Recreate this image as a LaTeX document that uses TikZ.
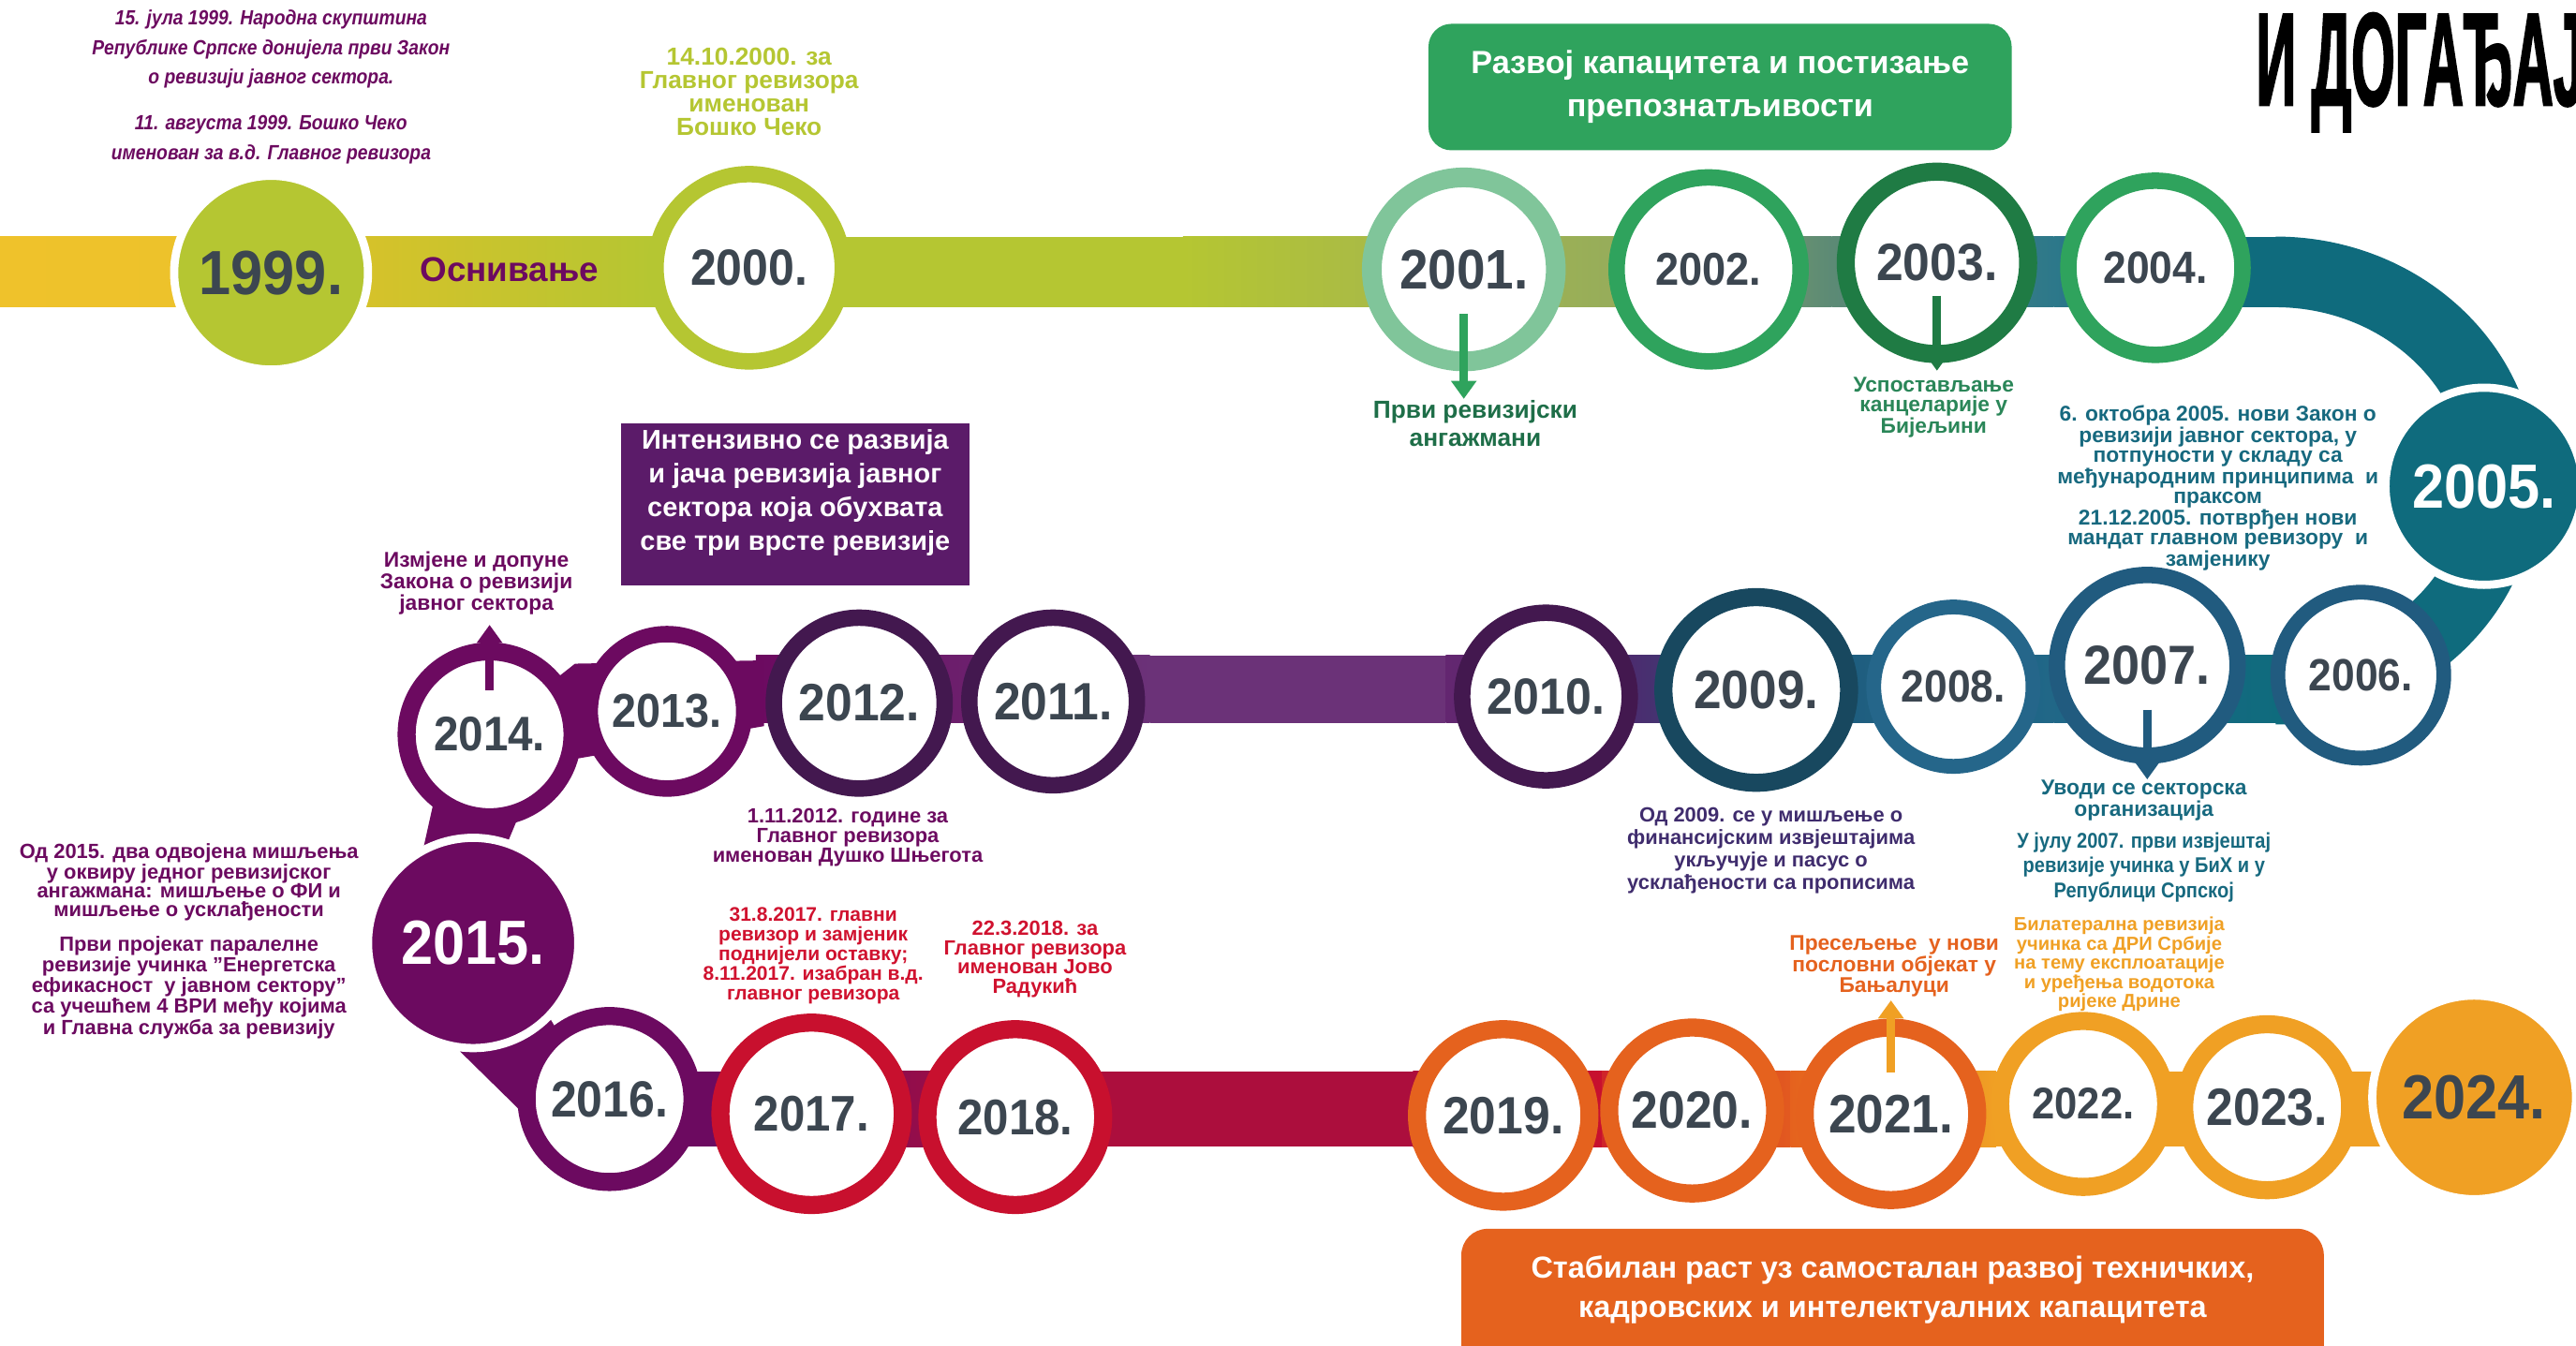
\documentclass[tikz,border=0pt]{standalone}
\usepackage{fontspec}
\setmainfont{Liberation Sans}
\newfontfamily\narrowf[FakeStretch=0.88]{Liberation Sans}
\newfontfamily\yearf[FakeStretch=0.92]{Liberation Sans}
\newfontfamily\titlef[FakeStretch=0.42,FakeBold=1.2]{Liberation Sans}
\usetikzlibrary{arrows.meta}
\definecolor{cYel}{HTML}{EFC22B}
\definecolor{cYelG}{HTML}{D6C22A}
\definecolor{cLime}{HTML}{B5C632}
\definecolor{bA}{HTML}{A8B948}
\definecolor{bB}{HTML}{94AB5D}
\definecolor{bC}{HTML}{5C8A75}
\definecolor{bD}{HTML}{2D788A}
\definecolor{cGreenL}{HTML}{80C59A}
\definecolor{cGreen}{HTML}{2FA35D}
\definecolor{cDGreen}{HTML}{1F7B44}
\definecolor{cTeal}{HTML}{0F6B7D}
\definecolor{cBlue}{HTML}{215B7F}
\definecolor{cBlueB}{HTML}{25668A}
\definecolor{cDTeal}{HTML}{18485F}
\definecolor{cDPurple}{HTML}{43184F}
\definecolor{cPurple}{HTML}{6C0A60}
\definecolor{cRed}{HTML}{C8102E}
\definecolor{cOrange}{HTML}{E5621E}
\definecolor{cAmber}{HTML}{F0A024}
\definecolor{cGray}{HTML}{3C4650}
\definecolor{cBoxP}{HTML}{5B1B69}
\definecolor{tGreen}{HTML}{1E6E48}
\definecolor{tGreenB}{HTML}{2A8658}
\definecolor{tTeal}{HTML}{17697F}
\definecolor{tBlue}{HTML}{3F2C6D}
\definecolor{tRed}{HTML}{D0122F}
\tikzset{
  yr/.style={font=\yearf\bfseries\fontsize{#1}{#1}\selectfont},
  ring/.style={circle, draw=#1, fill=white, inner sep=0pt, text=cGray},
  disc/.style={circle, fill=#1, draw=white, line width=5pt, inner sep=0pt},
  note/.style n args={3}{font=\bfseries\fontsize{#1}{#2}\selectfont, text=#3, align=center, inner sep=0pt},
  arr/.style={draw=#1, line width=5pt, -{Triangle[width=15pt,length=11pt]}},
}
\begin{document}
\begin{tikzpicture}[x=1pt,y=-1pt]
\useasboundingbox (0,0) rectangle (1568,819);
\fill[white] (0,0) rectangle (1568,819);
\begin{scope}
\clip (0,0) rectangle (1568,819);
% ---------- top band ----------
\shade[left color=cYel, right color=cYel!92!cYelG] (0,144) rectangle (112,187);
\shade[left color=cYelG, right color=cLime] (220,144) rectangle (400,187);
\fill[cLime] (400,144) rectangle (720,187);
\shade[left color=cLime, right color=bA] (720,144) rectangle (850,187);
\shade[left color=bA, right color=bB] (850,144) rectangle (1000,187);
\shade[left color=bB, right color=bC] (1000,144) rectangle (1115,187);
\shade[left color=bC, right color=bD] (1115,144) rectangle (1250,187);
\shade[left color=bD, right color=cTeal] (1250,144) rectangle (1330,187);
\fill[cTeal] (1330,144) rectangle (1386,187);
\draw[cTeal, line width=43pt] (1385,165.5) arc[start angle=-90, end angle=90, x radius=138, y radius=127];
% ---------- middle band ----------
\shade[left color=cBlueB!80!cTeal, right color=cTeal] (1250,399) rectangle (1387,440);
\shade[left color=cBlue!85!cTeal, right color=cBlueB!80!cTeal] (1120,399) rectangle (1250,440);
\shade[left color=cBoxP!75!cBlue, right color=cBlue!85!cTeal] (990,399) rectangle (1120,440);
\shade[left color=cBoxP!95!white, right color=cBoxP!75!cBlue] (880,399) rectangle (990,440);
\fill[cBoxP!90!white] (700,399) rectangle (880,440);
\shade[left color=cPurple, right color=cBoxP!90!white] (460,399) rectangle (700,440);
\fill[cPurple] (298,445) -- (350,404) -- (465,402) -- (465,442) -- (350,462) -- (298,470) -- cycle;
\fill[cPurple] (268,470) -- (326,472) -- (306,520) -- (258,515) -- cycle;
\fill[cPurple] (280,640) -- (330,612) -- (360,662) -- (335,694) -- cycle;
% ---------- bottom band ----------
\fill[cPurple] (371,652) rectangle (450,698);
\shade[left color=cPurple, right color=cPurple!40!cRed] (450,652) rectangle (600,698);
\fill[cPurple!30!cRed] (600,652) rectangle (860,698);
\shade[left color=cPurple!30!cRed, right color=cRed] (860,652) rectangle (975,698);
\shade[left color=cRed!75!cOrange, right color=cOrange!90!cRed] (975,652) rectangle (1090,698);
\shade[left color=cOrange, right color=cAmber] (1090,652) rectangle (1215,698);
\fill[cAmber] (1215,652) rectangle (1460,698);
% ---------- circles ----------
\node[disc=cLime, minimum size=118pt, yr=38, text=cGray] (y1999) at (165,166) {1999.};
\node[ring=cLime, line width=10pt, minimum size=114pt, yr=31] (y2000) at (456,163) {2000.};
\node[ring=cGreenL, line width=12pt, minimum size=112pt, yr=34] (y2001) at (891,164) {2001.};
\node[ring=cGreen, line width=10pt, minimum size=112pt, yr=28] (y2002) at (1040,164) {2002.};
\node[ring=cDGreen, line width=11pt, minimum size=111pt, yr=32] (y2003) at (1179,160) {2003.};
\node[ring=cGreen, line width=10pt, minimum size=106pt, yr=27.5] (y2004) at (1312,163) {2004.};
\node[disc=cTeal, minimum size=120pt, yr=38, text=white] (y2005) at (1512,296) {2005.};
\node[ring=cBlue, line width=9pt, minimum size=101pt, yr=27.5] (y2006) at (1437,411) {2006.};
\node[ring=cBlue, line width=10pt, minimum size=110pt, yr=33.5] (y2007) at (1307,405) {2007.};
\node[ring=cBlueB, line width=9pt, minimum size=97pt, yr=27.5] (y2008) at (1189,418) {2008.};
\node[ring=cDTeal, line width=11pt, minimum size=113pt, yr=33] (y2009) at (1069,420) {2009.};
\node[ring=cDPurple, line width=10pt, minimum size=102pt, yr=31] (y2010) at (941,424) {2010.};
\node[ring=cDPurple, line width=10pt, minimum size=102pt, yr=32] (y2011) at (641,427) {2011.};
\node[ring=cDPurple, line width=10pt, minimum size=104pt, yr=32] (y2012) at (523,428) {2012.};
\node[ring=cPurple, line width=10pt, minimum size=94pt, yr=29] (y2013) at (406,433) {2013.};
\node[ring=cPurple, line width=11pt, minimum size=101pt, yr=29.5] (y2014) at (298,447) {2014.};
\node[disc=cPurple, minimum size=128pt, yr=38, text=white] (y2015) at (288,574) {2015.};
\node[ring=cPurple, line width=11pt, minimum size=101pt, yr=31] (y2016) at (371,669) {2016.};
\node[ring=cRed, line width=11pt, minimum size=111pt, yr=30.5] (y2017) at (494,678) {2017.};
\node[ring=cRed, line width=11pt, minimum size=107pt, yr=30.5] (y2018) at (618,680) {2018.};
\node[ring=cOrange, line width=11pt, minimum size=105pt, yr=32] (y2019) at (915,679) {2019.};
\node[ring=cOrange, line width=11pt, minimum size=101pt, yr=32] (y2020) at (1030,676) {2020.};
\node[ring=cOrange, line width=11pt, minimum size=105pt, yr=33] (y2021) at (1151,678) {2021.};
\node[ring=cAmber, line width=11pt, minimum size=101pt, yr=27] (y2022) at (1268,672) {2022.};
\node[ring=cAmber, line width=11pt, minimum size=101pt, yr=32] (y2023) at (1380,674) {2023.};
\node[disc=cAmber, minimum size=124pt, yr=38, text=cGray] (y2024) at (1506,668) {2024.};
% ---------- boxes ----------
\node[fill=cGreen, rounded corners=14pt, minimum width=355pt, minimum height=77pt, inner sep=0pt,
      note={19.5}{26}{white}] (gbox) at (1047,53) {Развој капацитета и постизање\\препознатљивости};
\node[fill=cBoxP, minimum width=212pt, minimum height=99pt, inner sep=0pt] (pbox) at (484,307) {};
\node[note={16.5}{20.5}{white}] (ptext) at (484,300) {Интензивно се развија\\и јача ревизија јавног\\сектора која обухвата\\све три врсте ревизије};
\node[fill=cOrange, rounded corners=16pt, minimum width=525pt, minimum height=100pt, inner sep=0pt] (obox) at (1152,798) {};
\node[note={18.5}{24}{white}] (otext) at (1152,785) {Стабилан раст уз самосталан развој техничких,\\кадровских и интелектуалних капацитета};
% ---------- title ----------
\node[anchor=west, inner sep=0pt, font=\titlef\bfseries\fontsize{81}{81}\selectfont, text=black] (title) at (1373,44) {И ДОГАЂАЈИ};
\end{scope}
% ---------- labels ----------
\node[note={12.5}{18}{cPurple}, font=\narrowf\bfseries\itshape\fontsize{12.5}{18}\selectfont] (tl1) at (165,30) {15. јула 1999. Народна скупштина\\Републике Српске донијела први Закон\\о ревизији јавног сектора.};
\node[note={12.5}{18}{cPurple}, font=\narrowf\bfseries\itshape\fontsize{12.5}{18}\selectfont] (tl2) at (165,85) {11. августа 1999. Бошко Чеко\\именован за в.д. Главног ревизора};
\node[note={15}{14.3}{cLime}] (l2000) at (456,56) {14.10.2000. за\\Главног ревизора\\именован\\Бошко Чеко};
\node[note={21}{21}{cPurple}] (osn) at (310,164) {Оснивање};
\node[note={15}{17}{tGreen}] (l2001) at (898,258) {Први ревизијски\\ангажмани};
\node[note={13}{11.5}{tGreenB}] (l2003) at (1177,248) {Успостављање\\канцеларије у\\Бијељини};
\node[note={13}{11.85}{tTeal}] (l2005) at (1350,297) {6. октобра 2005. нови Закон о\\ревизији јавног сектора, у\\потпуности у складу са\\међународним принципима~ и\\праксом\\21.12.2005. потврђен нови\\мандат главном ревизору~ и\\замјенику};
\node[note={13}{12}{tTeal}] (l2007a) at (1305,487) {Уводи се секторска\\организација};
\node[note={13}{15}{tTeal}, font=\narrowf\bfseries\fontsize{13}{15}\selectfont] (l2007b) at (1305,528) {У јулу 2007. први извјештај\\ревизије учинка у БиХ и у\\Републици Српској};
\node[note={12.5}{13.7}{tBlue}] (l2009) at (1078,518) {Од 2009. се у мишљење о\\финансијским извјештајима\\укључује и пасус о\\усклађености са прописима};
\node[note={13}{12}{cPurple}] (l2014) at (290,355) {Измјене и допуне\\Закона о ревизији\\јавног сектора};
\node[note={12.5}{12}{cPurple}] (l2012) at (516,510) {1.11.2012. године за\\Главног ревизора\\именован Душко Шњегота};
\node[note={12.5}{11.3}{cPurple}] (l2015a) at (115,537) {Од 2015. два одвојена мишљења\\у оквиру једног ревизијског\\ангажмана: мишљење о ФИ и\\мишљење о усклађености};
\node[note={12.5}{11.5}{cPurple}] (l2015b) at (115,601) {Први пројекат паралелне\\ревизије учинка "Енергетска\\ефикасност~ у јавном сектору"\\са учешћем 4 ВРИ међу којима\\и Главна служба за ревизију};
\node[note={12}{12}{tRed}] (l2017) at (495,582) {31.8.2017. главни\\ревизор и замјеник\\поднијели оставку;\\8.11.2017. изабран в.д.\\главног ревизора};
\node[note={12.5}{11.7}{tRed}] (l2018) at (630,584) {22.3.2018. за\\Главног ревизора\\именован Јово\\Радукић};
\node[note={13}{11.5}{cOrange}] (l2021) at (1153,588) {Пресељење~ у нови\\пословни објекат у\\Бањалуци};
\node[note={11.5}{10.2}{cAmber}] (l2022) at (1290,587) {Билатерална ревизија\\учинка са ДРИ Србије\\на тему експлоатације\\и уређења водотока\\ријеке Дрине};
% ---------- arrows ----------
\coordinate (a01) at ([yshift=-27pt]y2001.center);
\coordinate (a03) at ([yshift=-20pt]y2003.center);
\coordinate (a07) at ([yshift=-27pt]y2007.center);
\coordinate (a14) at ([yshift=27pt]y2014.center);
\coordinate (a21) at ([yshift=25pt]y2021.center);
\draw[arr=cGreen, shorten >=1pt] (a01) -- (a01 |- l2001.north);
\draw[arr=cDGreen, shorten >=4pt] (a03) -- (a03 |- l2003.north);
\draw[arr=cBlue] (a07) -- (a07 |- l2007a.north);
\draw[arr=cPurple, shorten >=6pt] (a14) -- (a14 |- l2014.south);
\draw[arr=cAmber, shorten >=2pt] (a21) -- (a21 |- l2021.south);
\end{tikzpicture}
\end{document}
